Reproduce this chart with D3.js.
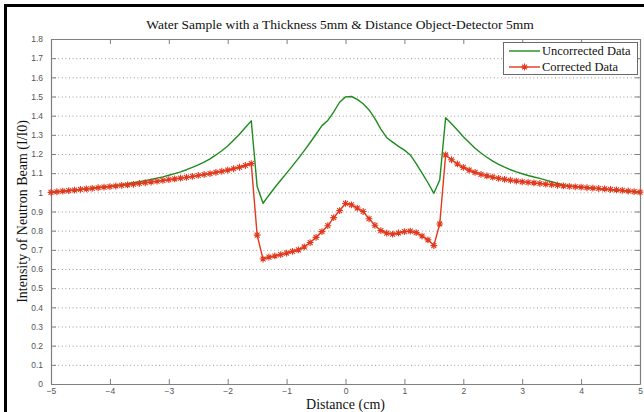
<!DOCTYPE html>
<html>
<head>
<meta charset="utf-8">
<script src="https://cdn.jsdelivr.net/npm/d3@7"></script>
<style>
  html, body { margin: 0; padding: 0; background: #fff; }
  svg { display: block; }
</style>
</head>
<body>
<svg id="chart" width="644" height="412"></svg>
<script>
// Sample positions across the object (cm)
const distance = [
  -5.0,-4.9,-4.8,-4.7,-4.6,-4.5,-4.4,-4.3,-4.2,-4.1,
  -4.0,-3.9,-3.8,-3.7,-3.6,-3.5,-3.4,-3.3,-3.2,-3.1,
  -3.0,-2.9,-2.8,-2.7,-2.6,-2.5,-2.4,-2.3,-2.2,-2.1,
  -2.0,-1.9,-1.8,-1.7,-1.6,-1.5,-1.4,-1.3,-1.2,-1.1,
  -1.0,-0.9,-0.8,-0.7,-0.6,-0.5,-0.4,-0.3,-0.2,-0.1,
   0.0, 0.1, 0.2, 0.3, 0.4, 0.5, 0.6, 0.7, 0.8, 0.9,
   1.0, 1.1, 1.2, 1.3, 1.4, 1.5, 1.6, 1.7, 1.8, 1.9,
   2.0, 2.1, 2.2, 2.3, 2.4, 2.5, 2.6, 2.7, 2.8, 2.9,
   3.0, 3.1, 3.2, 3.3, 3.4, 3.5, 3.6, 3.7, 3.8, 3.9,
   4.0, 4.1, 4.2, 4.3, 4.4, 4.5, 4.6, 4.7, 4.8, 4.9,
   5.0
];

// Intensity I/I0 before correction
const uncorrected = [
  1.000,1.003,1.006,1.009,1.012,1.015,1.018,1.021,1.025,1.028,
  1.032,1.036,1.040,1.045,1.050,1.055,1.061,1.067,1.074,1.081,
  1.089,1.098,1.107,1.118,1.130,1.143,1.158,1.175,1.195,1.217,
  1.242,1.272,1.303,1.338,1.373,1.030,0.943,0.985,1.025,1.063,
  1.100,1.138,1.177,1.218,1.260,1.303,1.348,1.375,1.420,1.470,
  1.498,1.500,1.485,1.462,1.430,1.385,1.330,1.285,1.262,1.240,
  1.220,1.195,1.150,1.100,1.050,0.995,1.064,1.389,1.358,1.325,
  1.290,1.260,1.230,1.205,1.183,1.163,1.146,1.131,1.118,1.107,
  1.097,1.088,1.080,1.073,1.064,1.055,1.046,1.039,1.034,1.030,
  1.027,1.024,1.021,1.018,1.015,1.013,1.010,1.008,1.005,1.003,
  1.000
];

// Intensity I/I0 after correction
const corrected = [
  1.000,1.003,1.006,1.009,1.012,1.015,1.018,1.021,1.024,1.027,
  1.030,1.033,1.036,1.039,1.042,1.046,1.050,1.054,1.058,1.062,
  1.066,1.070,1.074,1.078,1.083,1.088,1.093,1.098,1.104,1.110,
  1.116,1.123,1.131,1.140,1.150,0.777,0.652,0.662,0.668,0.675,
  0.683,0.692,0.700,0.715,0.738,0.765,0.795,0.826,0.868,0.905,
  0.942,0.935,0.918,0.900,0.862,0.828,0.800,0.787,0.782,0.788,
  0.795,0.798,0.790,0.772,0.752,0.722,0.835,1.195,1.170,1.148,
  1.130,1.116,1.104,1.094,1.086,1.079,1.073,1.068,1.063,1.059,
  1.055,1.052,1.049,1.046,1.043,1.040,1.037,1.034,1.031,1.029,
  1.027,1.024,1.022,1.020,1.018,1.015,1.013,1.010,1.007,1.004,
  1.001
];

const xTicks = [-5,-4,-3,-2,-1,0,1,2,3,4,5];
const yTicks = [0,0.1,0.2,0.3,0.4,0.5,0.6,0.7,0.8,0.9,1,1.1,1.2,1.3,1.4,1.5,1.6,1.7,1.8];
const seriesNames = ["Uncorrected Data", "Corrected Data"];
const titleText = "Water Sample with a Thickness 5mm & Distance Object-Detector 5mm";
const xLabel = "Distance (cm)";
const yLabel = "Intensity of Neutron Beam (I/I0)";

const W = 644, H = 412;
const plot = { left: 51, right: 640, top: 39, bottom: 384 };
const greenColor = "#1e8c1e";
const redColor = "#e2381c";
const serif = "'Liberation Serif', 'Times New Roman', serif";
const sans = "'Liberation Sans', Arial, sans-serif";

const svg = d3.select("#chart");

// outer frame of the figure window
svg.append("path")
  .attr("d", `M5.5,${H + 2}V5.5H${W + 2}`)
  .attr("fill", "none")
  .attr("stroke", "#000")
  .attr("stroke-width", 3);

const x = d3.scaleLinear().domain([-5, 5]).range([plot.left, plot.right]);
const y = d3.scaleLinear().domain([0, 1.8]).range([plot.bottom, plot.top]);

// dotted horizontal grid
svg.append("g")
  .selectAll("line")
  .data(yTicks.filter(t => t > 0 && t < 1.8))
  .join("line")
  .attr("x1", plot.left).attr("x2", plot.right)
  .attr("y1", d => y(d) + 0.5).attr("y2", d => y(d) + 0.5)
  .attr("stroke", "#9a9a9a")
  .attr("stroke-width", 1)
  .attr("stroke-dasharray", "1 2.6");

// axes with inward ticks on all four sides
const axisColor = "#7f7f7f";
const tickLen = 5;

const gx = svg.append("g").attr("transform", `translate(0,${plot.bottom})`)
  .call(d3.axisBottom(x).tickValues(xTicks).tickSizeInner(-tickLen).tickSizeOuter(0)
        .tickPadding(tickLen + 1).tickFormat(d3.format("d")));
const gxTop = svg.append("g").attr("transform", `translate(0,${plot.top})`)
  .call(d3.axisTop(x).tickValues(xTicks).tickSizeInner(-tickLen).tickSizeOuter(0).tickFormat(""));
const gy = svg.append("g").attr("transform", `translate(${plot.left},0)`)
  .call(d3.axisLeft(y).tickValues(yTicks).tickSizeInner(-tickLen).tickSizeOuter(0)
        .tickPadding(tickLen + 3).tickFormat(d3.format("~g")));
const gyRight = svg.append("g").attr("transform", `translate(${plot.right},0)`)
  .call(d3.axisRight(y).tickValues(yTicks).tickSizeInner(-tickLen).tickSizeOuter(0).tickFormat(""));

[gx, gxTop, gy, gyRight].forEach(g => {
  g.selectAll(".domain").attr("stroke", axisColor).attr("stroke-width", 1.2);
  g.selectAll(".tick line").attr("stroke", axisColor).attr("stroke-width", 1);
  g.selectAll("text").attr("font-family", sans).attr("font-size", 8.5).attr("fill", "#555");
});
gx.selectAll("text").attr("dy", "0.5em");

// data lines
const pointsU = distance.map((d, i) => [d, uncorrected[i]]);
const pointsC = distance.map((d, i) => [d, corrected[i]]);
const line = d3.line().x(d => x(d[0])).y(d => y(d[1]));

svg.append("path")
  .datum(pointsU)
  .attr("d", line)
  .attr("fill", "none")
  .attr("stroke", greenColor)
  .attr("stroke-width", 1.4)
  .attr("stroke-linejoin", "round");

svg.append("path")
  .datum(pointsC)
  .attr("d", line)
  .attr("fill", "none")
  .attr("stroke", redColor)
  .attr("stroke-width", 1.4)
  .attr("stroke-linejoin", "round");

// asterisk marker: a plus overlaid with a cross
function asterisk(r) {
  const k = r * 0.72;
  return `M${-r},0H${r}M0,${-r}V${r}M${-k},${-k}L${k},${k}M${-k},${k}L${k},${-k}`;
}

svg.append("g")
  .selectAll("path")
  .data(pointsC)
  .join("path")
  .attr("transform", d => `translate(${x(d[0])},${y(d[1])})`)
  .attr("d", asterisk(3.4))
  .attr("fill", "none")
  .attr("stroke", redColor)
  .attr("stroke-width", 1.1);

// legend
const leg = svg.append("g");
leg.append("rect")
  .attr("x", 503.5).attr("y", 42.5).attr("width", 134).attr("height", 32)
  .attr("fill", "#fff").attr("stroke", "#6a6a6a").attr("stroke-width", 1);
const legColors = [greenColor, redColor];
seriesNames.forEach((name, i) => {
  const ly = 51 + i * 16;
  leg.append("line")
    .attr("x1", 509).attr("x2", 540).attr("y1", ly).attr("y2", ly)
    .attr("stroke", legColors[i]).attr("stroke-width", 1.4);
  if (i === 1) {
    leg.append("path")
      .attr("transform", `translate(524.5,${ly})`)
      .attr("d", asterisk(3.4))
      .attr("fill", "none").attr("stroke", redColor).attr("stroke-width", 1.1);
  }
  leg.append("text")
    .attr("x", 542).attr("y", ly).attr("dy", "0.35em")
    .attr("font-family", serif).attr("font-size", 12.5).attr("fill", "#111")
    .text(name);
});

// titles
svg.append("text")
  .attr("x", 340).attr("y", 29)
  .attr("text-anchor", "middle")
  .attr("font-family", serif).attr("font-size", 13.5).attr("fill", "#111")
  .text(titleText);

svg.append("text")
  .attr("x", (plot.left + plot.right) / 2).attr("y", 409)
  .attr("text-anchor", "middle")
  .attr("font-family", serif).attr("font-size", 14).attr("fill", "#111")
  .text(xLabel);

svg.append("text")
  .attr("transform", `translate(27,${(plot.top + plot.bottom) / 2}) rotate(-90)`)
  .attr("text-anchor", "middle")
  .attr("font-family", serif).attr("font-size", 14).attr("fill", "#111")
  .text(yLabel);
</script>
</body>
</html>
